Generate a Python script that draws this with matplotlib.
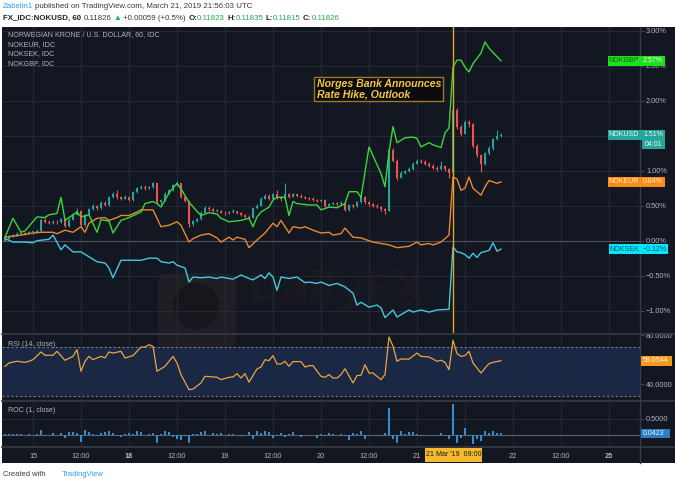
import matplotlib
matplotlib.use("Agg")
import matplotlib.pyplot as plt
import numpy as np
from matplotlib.patches import Rectangle, FancyBboxPatch, Ellipse
from matplotlib.lines import Line2D

plt.rcParams['font.family'] = ['Liberation Sans Narrow', 'Liberation Sans', 'DejaVu Sans']

# x = hourly bar number counted from Mar 15 00:00 (weekend bars skipped)
first_bar = -7
usd_close = [0.03, 0.06, 0.08, 0.10, 0.11, 0.10, 0.12,
             0.12, 0.14, 0.30, 0.27, 0.25, 0.27, 0.26, 0.31, 0.21, 0.30,
             0.37, 0.43, 0.22, 0.36, 0.45, 0.49, 0.46, 0.54, 0.51, 0.62,
             0.67, 0.62, 0.60, 0.63, 0.58, 0.69, 0.75, 0.77, 0.75, 0.76,
             0.82, 0.55, 0.58, 0.67, 0.72, 0.79, 0.82, 0.63, 0.57, 0.24,
             0.28, 0.31, 0.40, 0.47, 0.45, 0.42, 0.43, 0.40, 0.39, 0.41,
             0.42, 0.40, 0.37, 0.34, 0.33, 0.46, 0.50, 0.60, 0.64, 0.60,
             0.66, 0.62, 0.59, 0.66, 0.63, 0.66, 0.64, 0.62, 0.61, 0.60,
             0.58, 0.57, 0.58, 0.50, 0.52, 0.53, 0.52, 0.54, 0.44, 0.51,
             0.49, 0.55, 0.62, 0.55, 0.52, 0.50, 0.48, 0.45, 0.43, 1.30,
             1.14, 0.90, 0.97, 0.99, 1.02, 1.10, 1.14, 1.13, 1.10, 1.07,
             1.04, 1.02, 1.06, 1.02, 0.96, 1.87, 1.62, 1.53, 1.70, 1.66,
             1.35, 1.22, 1.10, 1.25, 1.32, 1.45, 1.49, 1.51]
usd_high = [0.05, 0.08, 0.10, 0.12, 0.13, 0.13, 0.14,
            0.14, 0.16, 0.32, 0.32, 0.29, 0.29, 0.29, 0.33, 0.32, 0.32,
            0.39, 0.46, 0.44, 0.38, 0.47, 0.52, 0.51, 0.56, 0.56, 0.64,
            0.70, 0.72, 0.64, 0.65, 0.64, 0.71, 0.77, 0.80, 0.79, 0.78,
            0.84, 0.83, 0.60, 0.69, 0.74, 0.81, 0.85, 0.83, 0.65, 0.58,
            0.30, 0.33, 0.42, 0.49, 0.49, 0.47, 0.45, 0.44, 0.42, 0.43,
            0.45, 0.43, 0.41, 0.38, 0.36, 0.48, 0.52, 0.62, 0.66, 0.66,
            0.68, 0.72, 0.64, 0.82, 0.68, 0.68, 0.67, 0.66, 0.64, 0.63,
            0.62, 0.60, 0.60, 0.59, 0.54, 0.55, 0.55, 0.56, 0.56, 0.53,
            0.53, 0.57, 0.65, 0.64, 0.57, 0.54, 0.52, 0.50, 0.47, 1.33,
            1.32, 1.16, 0.99, 1.01, 1.05, 1.12, 1.17, 1.16, 1.15, 1.12,
            1.09, 1.06, 1.14, 1.08, 1.04, 1.92, 1.90, 1.65, 1.73, 1.72,
            1.68, 1.38, 1.24, 1.27, 1.35, 1.47, 1.58, 1.54]
usd_low = [-0.01, 0.02, 0.05, 0.07, 0.09, 0.08, 0.09,
           0.10, 0.11, 0.13, 0.25, 0.24, 0.24, 0.24, 0.25, 0.19, 0.20,
           0.29, 0.36, 0.19, 0.21, 0.35, 0.44, 0.44, 0.45, 0.49, 0.50,
           0.61, 0.60, 0.58, 0.59, 0.56, 0.57, 0.68, 0.74, 0.73, 0.74,
           0.75, 0.53, 0.53, 0.57, 0.66, 0.71, 0.78, 0.61, 0.55, 0.19,
           0.21, 0.27, 0.30, 0.39, 0.43, 0.41, 0.41, 0.39, 0.37, 0.38,
           0.40, 0.38, 0.35, 0.32, 0.31, 0.32, 0.45, 0.49, 0.59, 0.58,
           0.59, 0.60, 0.57, 0.58, 0.61, 0.62, 0.62, 0.61, 0.59, 0.58,
           0.56, 0.55, 0.55, 0.48, 0.49, 0.51, 0.50, 0.51, 0.42, 0.43,
           0.47, 0.48, 0.54, 0.53, 0.50, 0.48, 0.46, 0.43, 0.38, 0.42,
           1.12, 0.87, 0.89, 0.95, 0.98, 1.01, 1.09, 1.11, 1.08, 1.05,
           1.02, 1.00, 1.01, 1.00, 0.90, 0.95, 1.60, 1.50, 1.52, 1.62,
           1.32, 1.19, 0.98, 1.08, 1.23, 1.30, 1.44, 1.48]

gbp_bar = [-7, -5, -3, -2, 1, 3, 4, 6, 7, 8, 11, 12, 14, 16, 17, 19, 20, 22, 24, 27,
           28, 30, 31, 32, 34, 36, 37, 39, 41, 42, 44, 46, 47, 49, 52, 54, 55, 56, 57, 59,
           60, 61, 63, 64, 65, 66, 69, 71, 72, 74, 76, 78, 79, 81, 82, 84, 87, 88, 89, 90,
           91, 93, 95, 96, 97, 99, 100, 102, 103, 104, 105, 106, 107, 108, 109, 110, 112,
           113, 114, 116, 117]
gbp_pct = [0.05, 0.32, 0.12, 0.14, 0.34, 0.33, 0.37, 0.39, 0.62, 0.29, 0.41, 0.34, 0.37,
           0.12, 0.30, 0.28, 0.11, 0.29, 0.33, 0.41, 0.53, 0.56, 0.53, 0.48, 0.68, 0.82,
           0.74, 0.55, 0.42, 0.36, 0.40, 0.38, 0.32, 0.27, 0.29, 0.32, 0.20, 0.34, 0.41,
           0.48, 0.58, 0.62, 0.62, 0.36, 0.56, 0.53, 0.51, 0.51, 0.44, 0.48, 0.47, 0.53,
           0.70, 0.70, 0.62, 1.34, 0.96, 0.77, 1.27, 1.63, 1.40, 1.47, 1.48, 1.46, 1.34,
           1.40, 1.37, 1.33, 1.54, 1.61, 2.48, 2.58, 2.58, 2.48, 2.41, 2.53, 2.68, 2.84,
           2.75, 2.63, 2.57]

eur_bar = [-7, -3, 0, 2, 5, 6, 8, 10, 12, 13, 14, 16, 18, 19, 21, 22, 24, 26, 27, 30,
           32, 34, 36, 37, 39, 40, 42, 44, 46, 47, 49, 50, 51, 53, 54, 56, 58, 59, 60, 61,
           62, 64, 65, 67, 68, 70, 72, 74, 75, 77, 78, 80, 82, 85, 87, 89, 91, 94, 96, 97,
           99, 100, 102, 104, 105, 106, 107, 108, 109, 110, 112, 113, 114, 116, 117]
eur_pct = [0.05, 0.08, 0.11, 0.12, 0.12, 0.10, 0.15, 0.12, 0.20, 0.12, 0.25, 0.32, 0.33,
           0.29, 0.33, 0.36, 0.36, 0.41, 0.44, 0.44, 0.20, 0.22, 0.27, 0.22, -0.02, 0.03,
           0.08, 0.10, 0.04, -0.02, 0.05, 0.01, 0.05, 0.02, -0.10, 0.01, 0.11, 0.18, 0.25,
           0.20, 0.29, 0.11, 0.20, 0.18, 0.20, 0.15, 0.11, 0.12, 0.08, 0.10, 0.18, 0.05,
           0.04, -0.02, -0.04, -0.06, -0.10, -0.08, -0.02, -0.06, -0.04, -0.06, -0.02,
           0.08, 0.91, 0.88, 0.72, 0.75, 0.91, 0.75, 0.65, 0.77, 0.86, 0.82, 0.84]

sek_bar = [-7, -5, -2, 0, 1, 4, 5, 7, 8, 10, 12, 14, 16, 18, 19, 20, 22, 24, 27, 29,
           31, 32, 34, 35, 36, 38, 39, 40, 42, 44, 46, 47, 50, 52, 54, 55, 57, 58, 59, 60,
           61, 62, 64, 66, 68, 69, 71, 72, 74, 76, 78, 80, 81, 82, 84, 86, 87, 88, 90, 91,
           94, 95, 97, 99, 101, 104, 105, 106, 107, 108, 109, 110, 111, 112, 114, 115,
           116, 117]
sek_pct = [0.03, -0.02, -0.02, -0.03, 0.00, 0.02, 0.08, -0.13, -0.06, -0.16, -0.16,
           -0.23, -0.30, -0.32, -0.39, -0.53, -0.28, -0.28, -0.28, -0.25, -0.25, -0.30,
           -0.32, -0.30, -0.35, -0.39, -0.59, -0.52, -0.53, -0.52, -0.54, -0.52, -0.55,
           -0.49, -0.54, -0.56, -0.49, -0.54, -0.46, -0.52, -0.71, -0.52, -0.54, -0.52,
           -0.60, -0.59, -0.61, -0.59, -0.64, -0.61, -0.66, -0.75, -0.92, -0.88, -0.95,
           -0.92, -0.96, -1.10, -0.99, -1.09, -0.99, -1.02, -0.99, -1.02, -0.99, -0.98,
           -0.09, -0.16, -0.17, -0.20, -0.25, -0.18, -0.24, -0.17, -0.14, -0.03, -0.15,
           -0.12]

rsi_bar = [-7, -6, -4, -2, -1, 0, 2, 3, 5, 6, 8, 10, 11, 12, 13, 14, 15, 17, 18, 19,
           20, 22, 23, 25, 26, 27, 28, 29, 30, 31, 33, 35, 36, 37, 39, 40, 42, 43, 45, 46,
           47, 49, 50, 51, 52, 53, 54, 55, 56, 57, 58, 59, 60, 61, 62, 63, 64, 65, 67, 68,
           69, 70, 72, 73, 74, 75, 76, 77, 78, 80, 81, 82, 83, 84, 85, 86, 87, 88, 89, 90,
           91, 92, 94, 96, 97, 99, 100, 101, 102, 103, 104, 105, 106, 107, 108, 109, 110,
           112, 113, 114, 115, 117]
rsi_val = [54.5, 57.2, 58.6, 57.7, 58.6, 59.9, 66.2, 63.5, 63.5, 66.7, 59.4, 62.6, 68.1,
           50.4, 58.6, 62.6, 59.9, 62.6, 61.3, 66.2, 65.3, 66.7, 61.3, 63.2, 66.7, 70.2,
           70.2, 72.1, 70.8, 50.4, 54.5, 62.6, 57.2, 47.7, 35.4, 35.9, 40.9, 46.3, 45.8,
           45.5, 43.6, 45.5, 45.8, 48.5, 44.9, 48.5, 41.5, 47.0, 52.3, 53.9, 59.9, 59.1,
           63.2, 56.4, 56.4, 58.6, 54.5, 58.3, 58.3, 53.9, 55.0, 55.0, 46.3, 45.5, 47.7,
           44.9, 44.9, 47.7, 52.5, 40.9, 46.9, 47.2, 55.8, 49.0, 49.0, 46.3, 43.6, 47.7,
           78.4, 70.8, 58.6, 60.4, 60.4, 65.3, 62.6, 62.1, 60.4, 58.6, 59.4, 57.7, 51.7,
           75.7, 64.8, 62.6, 63.2, 66.7, 57.2, 49.0, 53.0, 56.7, 57.7, 59.0544]

roc_val = [0.02, 0.02, 0.01, 0.02, 0.01, -0.01, 0.01,
           0.00, 0.02, 0.14, -0.05, -0.02, 0.05, -0.01, 0.04, -0.11, 0.09,
           0.09, 0.05, -0.24, 0.16, 0.07, 0.03, -0.05, 0.05, 0.07, 0.11,
           0.05, -0.03, -0.07, 0.02, 0.05, 0.03, 0.11, 0.08, -0.02, 0.01,
           0.05, -0.27, 0.03, 0.11, 0.08, -0.07, -0.14, -0.16, -0.04, -0.27,
           0.03, 0.02, 0.08, 0.11, -0.02, 0.05, 0.01, 0.05, -0.01, 0.02,
           0.01, -0.02, -0.05, -0.02, 0.08, -0.14, 0.13, 0.04, 0.13, 0.08,
           -0.11, -0.03, 0.05, -0.07, 0.02, 0.07, -0.02, -0.07, -0.01, -0.01,
           -0.02, -0.11, 0.01, -0.03, 0.05, 0.01, -0.01, 0.02, -0.03, -0.16,
           0.05, 0.02, 0.13, -0.13, -0.02, -0.02, -0.02, -0.03, 0.05, 0.85,
           -0.14, -0.27, 0.11, 0.02, 0.08, 0.07, 0.03, -0.05, -0.02, -0.02,
           -0.02, -0.01, 0.05, -0.03, -0.14, 0.98, -0.27, -0.11, 0.21, -0.03,
           -0.30, -0.14, -0.21, 0.13, 0.05, 0.13, 0.05, 0.0423]

tick_bars = [0, 12, 24, 36, 48, 60, 72, 84, 96, 108, 120, 132, 144]
tick_labels = ['15', '12:00', '18', '12:00', '19', '12:00', '20', '12:00', '21', '',
               '22', '12:00', '25']
bold_labels = ['18', '25']
pct_ticks = [-1.0, -0.5, 0.0, 0.5, 1.0, 1.5, 2.0, 2.5, 3.0]
hidden_pct = [1.5]  # sits under the NOKUSD price tag
event_bar = 105

W, H = 675, 483
BG = '#131722'
GRID = '#242833'
SEP = '#363a45'
TXT = '#b2b5be'
UP = '#26a69a'
DOWN = '#ef5350'
GBP_C = '#3ad63a'
EUR_C = '#e8892e'
SEK_C = '#45c8dc'
RSI_C = '#eba53b'
ROC_C = '#2f8fd0'
EVENT_C = '#e0a526'
AX_FS = 5.3

fig = plt.figure(figsize=(W / 100, H / 100), dpi=100, facecolor='white')


def box(x0, y0, x1, y1, **kw):
    r = Rectangle((x0 / W, 1 - y1 / H), (x1 - x0) / W, (y1 - y0) / H,
                  transform=fig.transFigure, **kw)
    fig.add_artist(r)
    return r


def txt(x, y, s, **kw):
    kw.setdefault('va', 'center')
    return fig.text(x / W, 1 - y / H, s, **kw)


def hline(y, x0, x1, **kw):
    fig.add_artist(Line2D([x0 / W, x1 / W], [1 - y / H, 1 - y / H],
                          transform=fig.transFigure, **kw))


def pane(top, bottom, ylim):
    ax = fig.add_axes([2 / W, 1 - bottom / H, 638 / W, (bottom - top) / H])
    ax.set_zorder(1)
    ax.set_facecolor('none')
    for sp in ax.spines.values():
        sp.set_visible(False)
    ax.set_xlim(-7.75, 151.75)
    ax.set_ylim(*ylim)
    ax.set_xticks(tick_bars)
    ax.set_axisbelow(True)
    ax.yaxis.tick_right()
    ax.tick_params(axis='x', length=0, labelbottom=False)
    ax.tick_params(axis='y', length=3, width=0.6, color='#4a4e5a',
                   labelcolor=TXT, labelsize=AX_FS, pad=1.3)
    return ax


box(2, 27, W, 463, facecolor=BG, edgecolor='none', zorder=0)

# faint DailyFX watermark behind the panes
wm = FancyBboxPatch((158 / W, 1 - 350 / H), 78 / W, 77 / H,
                    boxstyle='round,pad=0,rounding_size=0.02', transform=fig.transFigure,
                    facecolor='#1f1e24', edgecolor='none', zorder=0.3)
fig.add_artist(wm)
fig.add_artist(Ellipse((196 / W, 1 - 306 / H), 46 / W, 46 / H, transform=fig.transFigure,
                       facecolor='#16161c', edgecolor='none', zorder=0.4))
txt(246, 290, 'DailyFX', color='#1b1920', fontsize=30, fontweight='bold', zorder=0.3,
    family=['DejaVu Sans'])

# ---- main pane
ax = pane(27, 333, (-1.319, 3.053))
ax.grid(True, color=GRID, lw=0.8)
ax.set_yticks(pct_ticks)
ax.set_yticklabels(['' if v in hidden_pct else f'{v:.2f}%'.replace('-', '\u2212')
                    for v in pct_ticks])
ax.axhline(0, color='#4f535e', lw=0.8, zorder=1)

bars = np.arange(first_bar, first_bar + len(usd_close))
c = np.array(usd_close)
o = np.concatenate([[0.0], c[:-1]])
cols = np.where(c >= o, UP, DOWN)
ax.vlines(bars, usd_low, usd_high, colors=cols, lw=0.8, zorder=2)
ax.bar(bars, np.maximum(np.abs(c - o), 0.012), bottom=np.minimum(o, c),
       width=0.7, color=cols, linewidth=0, zorder=2)

ax.plot(eur_bar, eur_pct, color=EUR_C, lw=1.0, zorder=3)
ax.plot(sek_bar, sek_pct, color=SEK_C, lw=1.0, zorder=3)
ax.plot(gbp_bar, gbp_pct, color=GBP_C, lw=1.0, zorder=3)
ax.axvline(event_bar, color=EVENT_C, lw=1.0, zorder=4)

ax.text(70.9, 2.31, 'Norges Bank Announces\nRate Hike, Outlook', ha='left', va='top',
        color='#f5c842', fontsize=7.6, fontweight='bold', fontstyle='italic',
        family=['Liberation Sans', 'DejaVu Sans'], linespacing=1.0, zorder=6,
        bbox=dict(boxstyle='square,pad=0.22', facecolor='#0b0b0d', edgecolor='#9a7a2a', lw=1))

for i, s in enumerate(['NORWEGIAN KRONE / U.S. DOLLAR, 60, IDC', 'NOKEUR, IDC',
                       'NOKSEK, IDC', 'NOKGBP, IDC']):
    txt(8, 35 + 9.5 * i, s, color=TXT, fontsize=5.1, zorder=6)

# ---- RSI pane
ar = pane(335, 400, (26.98, 80.04))
ar.grid(True, axis='x', color=GRID, lw=0.8)
ar.axhspan(30, 70, color='#1b2a4a', alpha=0.92, lw=0, zorder=0)
ar.axhline(70, color='#787b86', lw=0.8, ls=(0, (2, 2)))
ar.axhline(30, color='#787b86', lw=0.8, ls=(0, (2, 2)))
ar.set_yticks([40, 80])
ar.set_yticklabels(['40.0000', '80.0000'])
ar.plot(rsi_bar, rsi_val, color=RSI_C, lw=0.9)
txt(8, 345, 'RSI (14, close)', color=TXT, fontsize=5.1, zorder=6)

# ---- ROC pane
ac = pane(402, 447, (-0.392, 1.041))
ac.grid(True, color=GRID, lw=0.8)
ac.set_yticks([0.5])
ac.set_yticklabels(['0.5000'])
ac.axhline(0, color='#5d606b', lw=0.8, zorder=1)
ac.bar(bars, roc_val, width=0.38, color=ROC_C, linewidth=0, zorder=2)
txt(8, 411, 'ROC (1, close)', color=TXT, fontsize=5.1, zorder=6)
ac.tick_params(axis='x', labelbottom=True, labelsize=AX_FS, labelcolor=TXT, pad=4)
ac.set_xticklabels(tick_labels)
for lab in ac.get_xticklabels():
    if lab.get_text() in bold_labels:
        lab.set_fontweight('bold')

# separators
for y in (334, 401, 447):
    hline(y, 2, W, color=SEP, lw=1.2, zorder=5)
fig.add_artist(Line2D([640 / W, 640 / W], [1 - 463 / H, 1 - 27 / H],
                      transform=fig.transFigure, color=SEP, lw=1.0, zorder=5))


def ypix(axis, v):
    return H - axis.transData.transform((0, v))[1]


def tag(axis, v, face, x0, x1, value, vcol, name=None, ncol=None, size=5.0):
    y = ypix(axis, v)
    box(x0, y - 4.8, x1, y + 4.8, facecolor=face, edgecolor='none', zorder=20)
    if name:
        txt((x0 + 639) / 2, y, name, color=ncol, fontsize=size, ha='center', zorder=21)
    txt(643, y, value, color=vcol, fontsize=size, ha='left', zorder=21)
    return y


def pct(v):
    return f'{v:.2f}%'.replace('-', '\u2212')


tag(ax, gbp_pct[-1], '#1fe01f', 608, 665, pct(gbp_pct[-1]), '#eaffea', 'NOKGBP', '#0c5f0c')
yu = tag(ax, usd_close[-1], UP, 608, 665, pct(usd_close[-1]), '#e8f6f4', 'NOKUSD', '#e8f6f4')
box(642, yu + 5.5, 665, yu + 14.5, facecolor=UP, edgecolor='none', zorder=20)
txt(645, yu + 10, '04:01', color='#e8f6f4', fontsize=5.0, zorder=21)
tag(ax, eur_pct[-1], '#ff8a14', 608, 665, pct(eur_pct[-1]), '#fff1de', 'NOKEUR', '#fff1de')
tag(ax, sek_pct[-1], '#00e8ff', 609, 668, pct(sek_pct[-1]), '#0d4c56', 'NOKSEK', '#0d4c56')
tag(ar, rsi_val[-1], '#f39a1e', 641, 672, f'{rsi_val[-1]:.4f}', '#fff4e2')
tag(ac, roc_val[-1], '#2a7fc4', 641, 670, f'{roc_val[-1]:.4f}', '#eaf4ff')

# date marker on the time axis
xe = ac.transData.transform((event_bar, 0))[0]
box(xe - 28, 448, xe + 29, 462, facecolor='#f6b92e', edgecolor='none', zorder=20)
txt(xe + 0.5, 455, "21 Mar '19  09:00", color='#1a1a1a', fontsize=5.1, ha='center', zorder=21)

# header / footer
renderer = fig.canvas.get_renderer()


def chain(x, y, parts, size=5.7):
    for s, col, weight, gap in parts:
        t = txt(x, y, s, color=col, fontsize=size, fontweight=weight,
                family=['Liberation Sans Narrow', 'Liberation Sans', 'DejaVu Sans'])
        x += t.get_window_extent(renderer).width + gap


DARK = '#3a3a3a'
GRN = '#26a65b'
chain(3, 7, [('Zabelin1', '#2a9df4', 'normal', 2.2),
             ('published on TradingView.com, March 21, 2019 21:56:03 UTC', DARK, 'normal', 0)])
chain(3, 18, [('FX_IDC:NOKUSD, 60', '#222222', 'bold', 2.2), ('0.11826', DARK, 'normal', 2.2),
              ('\u25b2', GRN, 'normal', 2.2), ('+0.00059 (+0.5%)', DARK, 'normal', 2.2),
              ('O:', '#222222', 'bold', 0), ('0.11823', GRN, 'normal', 2.2),
              ('H:', '#222222', 'bold', 0), ('0.11835', GRN, 'normal', 2.2),
              ('L:', '#222222', 'bold', 0), ('0.11815', GRN, 'normal', 2.2),
              ('C:', '#222222', 'bold', 0), ('0.11826', GRN, 'normal', 0)])
chain(3, 474, [('Created with', DARK, 'normal', 16), ('TradingView', '#2a9df4', 'normal', 0)],
      size=5.4)

fig.savefig('out.png', dpi=100, facecolor='white')
